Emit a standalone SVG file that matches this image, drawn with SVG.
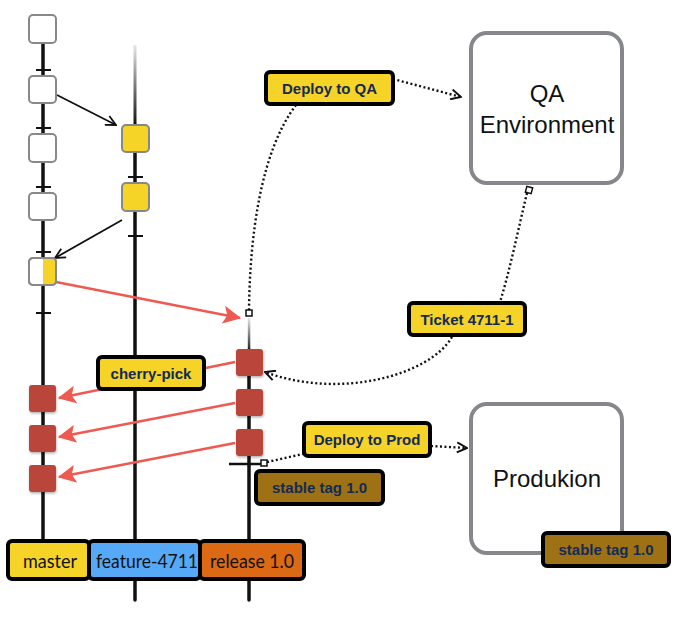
<svg xmlns="http://www.w3.org/2000/svg" width="692" height="621" viewBox="0 0 692 621">
<defs>
<style>
.branch{stroke:#111;stroke-width:3.5;fill:none;stroke-linecap:round}
.tick{stroke:#111;stroke-width:2;fill:none}
.wnode{fill:#fff;stroke:#87888a;stroke-width:2}
.ynode{fill:#F5D327;stroke:#87888a;stroke-width:2}
.rnode{fill:#B9453A;filter:url(#shadow)}
.lbl{stroke:#000;stroke-width:4;stroke-linejoin:round}
.y{fill:#F5D327}
.br{fill:#9E7214}
.bl{fill:#55A9F7}
.or{fill:#DC6A14}
.ltxt{font-family:"Liberation Sans",Arial,sans-serif;font-weight:bold;font-size:15px;fill:#142A55;text-anchor:middle}
.btxt{font-family:Lato,"Liberation Sans",Arial,sans-serif;font-size:19px;fill:#111;text-anchor:middle}
.env{fill:#fff;stroke:#85878a;stroke-width:4}
.etxt{font-family:"Liberation Sans",Arial,sans-serif;font-size:24px;fill:#111;text-anchor:middle}
.blk{stroke:#111;stroke-width:1.8;fill:none}
.red{stroke:#EE5A52;stroke-width:2.5;fill:none}
.dot{stroke:#111;stroke-width:2.4;fill:none;stroke-dasharray:2 2.5}
.sq{fill:#fff;stroke:#111;stroke-width:1.5}
</style>
<filter id="shadow" x="-20%" y="-20%" width="150%" height="150%">
<feDropShadow dx="0.5" dy="1.5" stdDeviation="1" flood-color="#000" flood-opacity="0.3"/>
</filter>
<linearGradient id="fade" x1="0" y1="0" x2="0" y2="1">
<stop offset="0" stop-color="#111" stop-opacity="0.1"/>
<stop offset="1" stop-color="#111" stop-opacity="1"/>
</linearGradient>
<marker id="openBlk" viewBox="0 0 12 12" refX="11" refY="6" markerWidth="12" markerHeight="12" markerUnits="userSpaceOnUse" orient="auto">
<path d="M1,1 L11,6 L1,11" fill="none" stroke="#111" stroke-width="1.8"/>
</marker>
<marker id="openDot" viewBox="0 0 12 12" refX="11" refY="6" markerWidth="12" markerHeight="12" markerUnits="userSpaceOnUse" orient="auto">
<path d="M1,1 L11,6 L1,11" fill="none" stroke="#111" stroke-width="2"/>
</marker>
<marker id="redHead" viewBox="0 0 16 16" refX="15" refY="8" markerWidth="18" markerHeight="18" markerUnits="userSpaceOnUse" orient="auto">
<path d="M1,1 L15,8 L1,15 L4,8 Z" fill="#EE5A52" stroke="#EE5A52" stroke-width="1"/>
</marker>
</defs>

<g id="branches">
<line class="branch" x1="43" y1="42" x2="43" y2="541"/>
<rect x="133.5" y="45" width="3" height="80" fill="url(#fade)"/>
<line class="branch" x1="135" y1="125" x2="135" y2="600"/>
<rect x="247.8" y="318" width="2.5" height="35" fill="url(#fade)"/>
<line class="branch" x1="249" y1="350" x2="249" y2="600"/>
<g class="tick">
<line x1="36" y1="70" x2="51" y2="70"/>
<line x1="36" y1="128" x2="51" y2="128"/>
<line x1="36" y1="187" x2="51" y2="187"/>
<line x1="36" y1="252" x2="51" y2="252"/>
<line x1="36" y1="313" x2="51" y2="313"/>
<line x1="128" y1="177" x2="143" y2="177"/>
<line x1="128" y1="236" x2="143" y2="236"/>
<line x1="229" y1="464" x2="263" y2="464" stroke-width="2.5"/>
</g>
</g>

<g id="connectors">
<line class="blk" x1="57" y1="95" x2="116" y2="125" marker-end="url(#openBlk)"/>
<line class="blk" x1="122" y1="220" x2="55" y2="258" marker-end="url(#openBlk)"/>
<line class="red" x1="56" y1="282" x2="240" y2="318" marker-end="url(#redHead)"/>
<line class="red" x1="235" y1="362" x2="59" y2="398" marker-end="url(#redHead)"/>
<line class="red" x1="235" y1="403" x2="59" y2="437" marker-end="url(#redHead)"/>
<line class="red" x1="235" y1="443" x2="59" y2="477" marker-end="url(#redHead)"/>
<path class="dot" d="M393,79 L461,97" marker-end="url(#openDot)"/>
<path class="dot" d="M296,105 C262,150 250,230 249,310"/>
<rect class="sq" x="246" y="310" width="6" height="6"/>
<path class="dot" d="M527,193 C518,230 510,270 500,302"/>
<rect class="sq" x="526" y="187" width="6" height="6" transform="rotate(15 529 190)"/>
<path class="dot" d="M452,337 C430,375 340,400 265,372" marker-end="url(#openDot)"/>
<path class="dot" d="M267,462 L303,454"/>
<rect class="sq" x="261" y="460" width="6" height="6"/>
<path class="dot" d="M431,446 L467,448" marker-end="url(#openDot)"/>
</g>

<g id="m1"><rect class="wnode" x="29" y="15" width="27" height="28" rx="4"/></g>
<g id="m2"><rect class="wnode" x="29" y="76" width="27" height="27" rx="4"/></g>
<g id="m3"><rect class="wnode" x="29" y="134" width="27" height="28" rx="4"/></g>
<g id="m4"><rect class="wnode" x="29" y="193" width="27" height="27" rx="4"/></g>
<g id="m5">
<rect class="wnode" x="29" y="258" width="27" height="27" rx="4"/>
<path d="M43,259 H52 Q55,259 55,262 V281 Q55,284 52,284 H43 Z" fill="#F5D327"/>
<rect x="29" y="258" width="27" height="27" rx="4" fill="none" stroke="#87888a" stroke-width="2"/>
</g>
<g id="f1"><rect class="ynode" x="122" y="125" width="27" height="27" rx="4"/></g>
<g id="f2"><rect class="ynode" x="122" y="183" width="27" height="28" rx="4"/></g>
<g id="r1"><rect class="rnode" x="236" y="349" width="27" height="27" rx="3"/></g>
<g id="r2"><rect class="rnode" x="236" y="389" width="27" height="27" rx="3"/></g>
<g id="r3"><rect class="rnode" x="236" y="429" width="27" height="27" rx="3"/></g>
<g id="c1"><rect class="rnode" x="29" y="385" width="27" height="27" rx="3"/></g>
<g id="c2"><rect class="rnode" x="29" y="425" width="27" height="27" rx="3"/></g>
<g id="c3"><rect class="rnode" x="29" y="465" width="27" height="27" rx="3"/></g>

<g id="deploy-qa"><rect class="lbl y" x="266" y="72" width="127" height="32" rx="4"/><text class="ltxt" x="329.5" y="93.5">Deploy to QA</text></g>
<g id="ticket"><rect class="lbl y" x="409" y="303" width="116" height="32" rx="4"/><text class="ltxt" x="467" y="324.5">Ticket 4711-1</text></g>
<g id="cherry-pick"><rect class="lbl y" x="98" y="357" width="106" height="32" rx="4"/><text class="ltxt" x="151" y="378.5">cherry-pick</text></g>
<g id="deploy-prod"><rect class="lbl y" x="304" y="423" width="126" height="33" rx="4"/><text class="ltxt" x="367" y="444.5">Deploy to Prod</text></g>
<g id="stable1"><rect class="lbl br" x="256" y="471" width="127" height="33" rx="4"/><text class="ltxt" x="319.5" y="492.5">stable tag 1.0</text></g>

<g id="qa-env"><rect class="env" x="471" y="33" width="151" height="150" rx="16"/>
<text class="etxt" x="547" y="102">QA</text><text class="etxt" x="547" y="133">Environment</text></g>
<g id="produktion"><rect class="env" x="471" y="404" width="151" height="149" rx="16"/>
<text class="etxt" x="547" y="487">Produkion</text></g>
<g id="stable2"><rect class="lbl br" x="543" y="533" width="126" height="33" rx="4"/><text class="ltxt" x="606" y="554.5">stable tag 1.0</text></g>

<g id="master-label"><rect class="lbl y" x="8" y="541" width="81" height="38" rx="4"/><text class="btxt" x="50" y="568" textLength="54" lengthAdjust="spacingAndGlyphs">master</text></g>
<g id="feature-label"><rect class="lbl bl" x="89" y="541" width="111" height="38" rx="4"/><text class="btxt" x="147" y="568" textLength="102" lengthAdjust="spacingAndGlyphs">feature-4711</text></g>
<g id="release-label"><rect class="lbl or" x="200" y="541" width="104" height="38" rx="4"/><text class="btxt" x="252" y="568" textLength="84" lengthAdjust="spacingAndGlyphs">release 1.0</text></g>
</svg>
